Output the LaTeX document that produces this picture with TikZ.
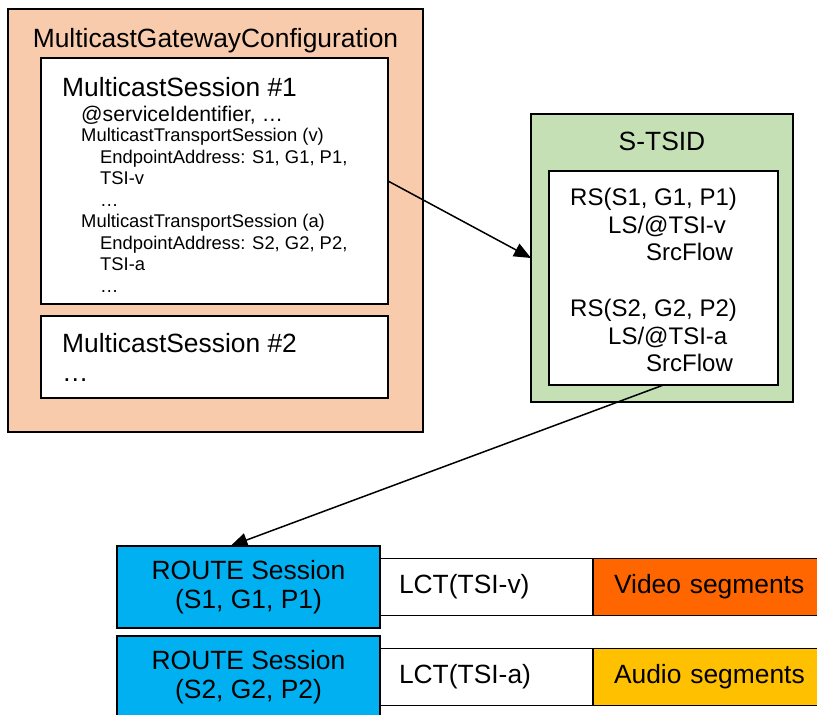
\documentclass[tikz,border=0pt]{standalone}
\usepackage{fontspec}
\setmainfont{Liberation Sans}
\usetikzlibrary{positioning, arrows.meta}
\definecolor{peach}{HTML}{F8CBAD}
\definecolor{tsidgreen}{HTML}{C5E0B4}
\definecolor{routeblue}{HTML}{00B0F0}
\definecolor{videoorange}{HTML}{FF6600}
\definecolor{audiogold}{HTML}{FFC000}
\tikzstyle{box} = [rectangle, draw=black, line width=1.5pt, inner sep=0pt, outer sep=0pt, anchor=north west]
\tikzstyle{txt} = [inner sep=0pt, anchor=base west]
\tikzstyle{big} = [font=\fontsize{26.4}{28.5}\selectfont]
\tikzstyle{mid} = [font=\fontsize{21.2}{25}\selectfont]
\tikzstyle{small} = [font=\fontsize{18.4}{21.5}\selectfont]
\tikzstyle{rs} = [font=\fontsize{24}{27.5}\selectfont]
\tikzstyle{seg} = [box, anchor=west, minimum height=57pt, align=left, big]
\tikzstyle{arrow} = [line width=1.5pt, -{Triangle[length=17pt, width=14pt]}]

\begin{document}
\begin{tikzpicture}[x=1pt, y=-1pt]
\useasboundingbox (0,0) rectangle (817,715);

% gateway configuration
\node (cfg) [box, fill=peach, minimum width=415pt, minimum height=423pt] at (8,9) {};
\node (cfgtitle) [big, inner sep=0pt, anchor=base] at (215.5,47) {MulticastGatewayConfiguration};

\node (ms1) [box, fill=white, minimum width=347pt, minimum height=246pt] at (41,58) {};
\node (ms1title) [txt, big] at (62,96) {MulticastSession \#1};
\node (svcid) [txt, mid] at (81,121) {@serviceIdentifier, …};
\foreach \x/\y/\t [count=\i] in {81/141.5/{MulticastTransportSession (v)},
    100/163/{EndpointAddress: S1, G1, P1,}, 100/184.5/TSI-v, 100/206/…,
    81/227.5/{MulticastTransportSession (a)},
    100/249/{EndpointAddress: S2, G2, P2,}, 100/270.5/TSI-a, 100/292/…}
  \node (mts\i) [txt, small] at (\x,\y) {\t};

\node (ms2) [box, fill=white, minimum width=347pt, minimum height=82pt] at (41,316) {};
\node (ms2title) [txt, big] at (62,352) {MulticastSession \#2};
\node (ms2more) [txt, big] at (62,381) {…};

% S-TSID
\node (stsid) [box, fill=tsidgreen, minimum width=262pt, minimum height=288pt] at (531,114) {};
\node (stsidtitle) [big, inner sep=0pt, anchor=base] at (662,150) {S-TSID};
\node (rsbox) [box, fill=white, minimum width=229pt, minimum height=214pt] at (549,171) {};
\foreach \x/\y/\t [count=\i] in {570/205.5/{RS(S1, G1, P1)}, 608/233/{LS/@TSI-v},
    646/260.5/SrcFlow, 570/316.5/{RS(S2, G2, P2)}, 608/344/{LS/@TSI-a},
    646/371.5/SrcFlow}
  \node (rs\i) [txt, rs] at (\x,\y) {\t};

% ROUTE sessions
\node (route1) [box, fill=routeblue, minimum width=263pt, minimum height=82pt, align=center, big] at (117,546) {ROUTE Session\\(S1, G1, P1)};
\node (lct1) [seg, fill=white, text width=175pt, inner xsep=19pt, right=0pt of route1] {LCT(TSI-v)};
\node (video) [seg, fill=videoorange, text width=200pt, inner xsep=21pt, right=0pt of lct1] {Video segments};

\node (route2) [box, fill=routeblue, minimum width=263pt, minimum height=82pt, align=center, big, below=8pt of route1] {ROUTE Session\\(S2, G2, P2)};
\node (lct2) [seg, fill=white, text width=175pt, inner xsep=19pt, right=0pt of route2] {LCT(TSI-a)};
\node (audio) [seg, fill=audiogold, text width=200pt, inner xsep=21pt, right=0pt of lct2] {Audio segments};

\draw [arrow] (ms1.east) -- (stsid.west);
\draw [arrow] (rsbox.south) -- ([xshift=-18pt]route1.north);

\end{tikzpicture}
\end{document}
